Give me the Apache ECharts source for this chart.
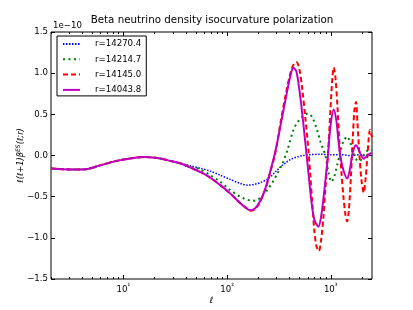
<!DOCTYPE html>
<html><head><meta charset="utf-8">
<script src="https://cdn.jsdelivr.net/npm/echarts@6/dist/echarts.min.js"></script>
<style>html,body{margin:0;padding:0;background:#fff}#c{width:413px;height:310px}</style>
</head><body><div id="c"></div>
<script>
// Shared low-ell part (all four curves coincide)
var ellLow = [2, 2.6, 3.4, 4.3, 5.95, 8.6, 12.5, 16.2, 22.6, 28.2, 35.2];
var valLow = [-0.158, -0.166, -0.17, -0.168, -0.12, -0.065, -0.03, -0.017, -0.036, -0.065, -0.095];

var ellBlue = [44, 55, 69, 86, 107, 134, 157, 183, 209, 250, 292, 326, 365, 408, 466, 544, 636, 794, 992, 1240, 1548, 1934, 2210, 2500];
var valBlue = [-0.125, -0.155, -0.19, -0.24, -0.29, -0.34, -0.36, -0.35, -0.33, -0.28, -0.20, -0.14, -0.09, -0.05, -0.02, 0.0, 0.01, 0.015, 0.01, 0.01, 0.0, 0.01, 0.0, 0.01];

var ellGreen = [44, 55, 69, 86, 107, 134, 150, 177, 196, 219, 244, 273, 305, 341, 381, 436, 476, 532, 569, 608, 665, 738, 794, 849, 888, 949, 1015, 1085, 1160, 1240, 1325, 1439, 1548, 1655, 1770, 1892, 2022, 2210, 2416, 2500];
var valGreen = [-0.135, -0.17, -0.24, -0.32, -0.42, -0.50, -0.53, -0.55, -0.54, -0.49, -0.42, -0.33, -0.22, -0.10, 0.06, 0.31, 0.40, 0.47, 0.50, 0.51, 0.46, 0.31, 0.17, 0.07, 0.0, -0.2, -0.32, -0.25, -0.10, 0.05, 0.17, 0.23, 0.15, 0.03, -0.05, -0.07, -0.02, 0.05, 0.07, 0.06];

var ellRed = [44, 55, 69, 86, 107, 134, 150, 167, 187, 209, 234, 261, 292, 326, 365, 408, 436, 466, 498, 532, 569, 608, 636, 665, 695, 727, 769, 812, 849, 888, 939, 992, 1038, 1068, 1109, 1160, 1212, 1267, 1325, 1386, 1439, 1498, 1566, 1637, 1692, 1750, 1809, 1892, 1978, 2082, 2162, 2260, 2389, 2500];
var valRed = [-0.145, -0.20, -0.27, -0.36, -0.46, -0.58, -0.63, -0.67, -0.65, -0.56, -0.41, -0.20, 0.03, 0.38, 0.72, 1.0, 1.1, 1.135, 1.05, 0.80, 0.45, 0.08, -0.25, -0.60, -0.92, -1.10, -1.16, -1.0, -0.75, -0.40, 0.0, 0.55, 0.95, 1.07, 0.95, 0.6, 0.15, -0.2, -0.5, -0.72, -0.80, -0.65, -0.25, 0.25, 0.55, 0.65, 0.40, 0.0, -0.30, -0.45, -0.30, 0.0, 0.31, 0.22];

var ellMag = [44, 55, 69, 86, 107, 134, 150, 167, 187, 209, 234, 261, 292, 326, 365, 408, 436, 466, 498, 532, 569, 608, 650, 695, 760, 812, 868, 939, 992, 1068, 1134, 1186, 1240, 1325, 1439, 1514, 1583, 1655, 1750, 1850, 1934, 2082, 2210, 2363, 2500];
var valMag = [-0.145, -0.20, -0.27, -0.36, -0.46, -0.58, -0.63, -0.665, -0.64, -0.55, -0.40, -0.19, 0.05, 0.35, 0.67, 0.97, 1.065, 1.02, 0.80, 0.50, 0.15, -0.20, -0.55, -0.78, -0.865, -0.72, -0.42, 0.0, 0.35, 0.56, 0.42, 0.18, -0.02, -0.18, -0.28, -0.20, -0.05, 0.07, 0.125, 0.08, 0.02, -0.04, -0.01, 0.02, 0.03];

var seriesNames = ['r=14270.4', 'r=14214.7', 'r=14145.0', 'r=14043.8'];
var yTicks = [-1.5, -1.0, -0.5, 0.0, 0.5, 1.0, 1.5];
var xMajor = [10, 100, 1000];
var xMinor = [2,3,4,5,6,7,8,9,20,30,40,50,60,70,80,90,200,300,400,500,600,700,800,900,2000];

function pairs(ellA, valA) {
  var e = ellLow.concat(ellA), v = valLow.concat(valA);
  return e.map(function (x, i) { return [x, v[i]]; });
}
var FONT = 'DejaVu Sans';
var sup = {1: '¹', 2: '²', 3: '³'};
var lg = function (a) { return a.map(function (v) { return Math.log10(v); }); };
var LMIN = Math.log10(2), LMAX = Math.log10(2500);

function decoAxis(pos, values, len, labels) {
  return {
    type: 'value', gridIndex: 0, position: pos, min: LMIN, max: LMAX,
    axisLine: {show: false, onZero: false}, splitLine: {show: false},
    axisTick: {show: true, inside: true, length: len, customValues: values, lineStyle: {color: '#000', width: 1}},
    axisLabel: labels ? {
      show: true, customValues: [1, 2, 3], margin: 4,
      formatter: function (v) { return '{b|10}{s|' + sup[Math.round(v)] + '}'; },
      rich: {b: {fontFamily: FONT, fontSize: 8.6, color: '#000'}, s: {fontFamily: FONT, fontSize: 7, color: '#000', verticalAlign: 'top', padding: [0, 0, 6, 0]}}
    } : {show: false}
  };
}

var chart = echarts.init(document.getElementById('c'), null, {renderer: 'canvas'});
var option = {
  animation: false,
  backgroundColor: '#fff',
  grid: {left: 51, right: 41, top: 32, bottom: 31, show: true, borderColor: '#000', borderWidth: 1, backgroundColor: 'transparent'},
  graphic: [
    {type: 'text', x: 212, y: 15, style: {text: 'Beta neutrino density isocurvature polarization', font: '10.3px "DejaVu Sans"', fill: '#000', textAlign: 'center'}},
    {type: 'text', x: 53, y: 21, style: {text: '1e\u221210', font: '8.6px "DejaVu Sans"', fill: '#000'}}
  ],
  legend: {
    orient: 'vertical', left: 57, top: 36, itemWidth: 17, itemHeight: 2, itemGap: 5.3,
    padding: [3, 5, 1, 5], borderColor: '#000', borderWidth: 1, backgroundColor: '#fff',
    itemStyle: {opacity: 0},
    data: seriesNames,
    textStyle: {fontFamily: FONT, fontSize: 8.6, lineHeight: 10, color: '#000', padding: [0, 0, 0, 10]}
  },
  xAxis: [
    {type: 'log', logBase: 10, min: 2, max: 2500, gridIndex: 0, position: 'bottom',
     axisLine: {show: false, onZero: false}, axisTick: {show: false}, axisLabel: {show: false}, splitLine: {show: false}},
    Object.assign(decoAxis('bottom', lg(xMajor), 4, true), {name: 'ℓ', nameLocation: 'middle', nameGap: 17, nameMoveOverlap: false,
      nameTextStyle: {fontFamily: FONT, fontStyle: 'italic', fontSize: 8.6, color: '#000'}}),
    decoAxis('bottom', lg(xMinor), 2, false),
    decoAxis('top', lg(xMajor), 4, false),
    decoAxis('top', lg(xMinor), 2, false)
  ],
  yAxis: [
    {type: 'value', min: -1.5, max: 1.5, interval: 0.5, position: 'left',
     axisLine: {show: false, onZero: false}, splitLine: {show: false},
     axisTick: {show: true, inside: true, length: 4, lineStyle: {color: '#000'}},
     axisLabel: {margin: 3, fontFamily: FONT, fontSize: 8.6, color: '#000',
       formatter: function (v) { return (v < 0 ? '\u2212' : '') + Math.abs(v).toFixed(1); }},
     name: '{a|ℓ(ℓ+1)β}{s|ES}{a|(ℓ;r)}', nameLocation: 'middle', nameGap: 25, nameRotate: 90, nameMoveOverlap: false,
     nameTextStyle: {rich: {a: {fontFamily: FONT, fontStyle: 'italic', fontSize: 8.3, color: '#000'},
       s: {fontFamily: FONT, fontStyle: 'italic', fontSize: 6, color: '#000', verticalAlign: 'top', padding: [0, 0, 5, 0]}}}},
    {type: 'value', min: -1.5, max: 1.5, interval: 0.5, position: 'right',
     axisLine: {show: false, onZero: false}, splitLine: {show: false},
     axisTick: {show: true, inside: true, length: 4, lineStyle: {color: '#000'}},
     axisLabel: {show: false}}
  ],
  series: [
    {name: seriesNames[0], type: 'line', data: pairs(ellBlue, valBlue), showSymbol: false, symbol: 'none', smooth: 0.3,
     lineStyle: {color: '#0000ff', width: 1.5, type: [1.5, 1.5]}, itemStyle: {color: '#0000ff'}},
    {name: seriesNames[1], type: 'line', data: pairs(ellGreen, valGreen), showSymbol: false, symbol: 'none', smooth: 0.3,
     lineStyle: {color: '#008000', width: 2, type: [2, 3.5]}, itemStyle: {color: '#008000'}},
    {name: seriesNames[2], type: 'line', data: pairs(ellRed, valRed), showSymbol: false, symbol: 'none', smooth: 0.3,
     lineStyle: {color: '#ff0000', width: 2, type: [5, 3]}, itemStyle: {color: '#ff0000'}},
    {name: seriesNames[3], type: 'line', data: pairs(ellMag, valMag), showSymbol: false, symbol: 'none', smooth: 0.3,
     lineStyle: {color: '#bf00bf', width: 2}, itemStyle: {color: '#bf00bf'}}
  ]
};
chart.setOption(option);
</script></body></html>
